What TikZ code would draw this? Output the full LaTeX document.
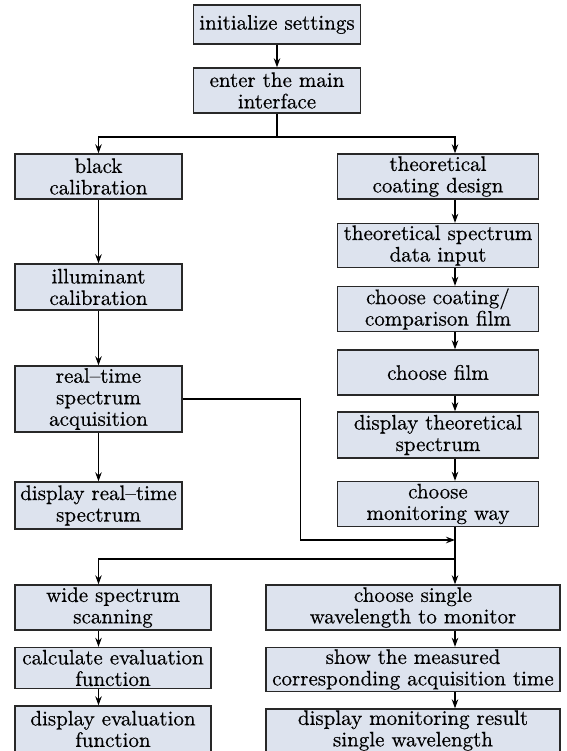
\documentclass[tikz,border=0pt]{standalone}
\usepackage{fontspec}
\newfontfamily\boxfont{lmroman10-regular.otf}[FakeBold=0.5, Ligatures=TeX]
\usetikzlibrary{arrows.meta}
\definecolor{boxfill}{RGB}{221,227,238}
\definecolor{boxline}{RGB}{40,40,40}
\begin{document}
\begin{tikzpicture}[x=1pt,y=-1pt,
  flowbox/.style={draw=boxline, line width=1.4pt, fill=boxfill, rectangle,
    inner sep=0pt, align=center, font=\boxfont\fontsize{21}{21.5}\selectfont},
  arr/.style={draw=black, line width=1.1pt, -{Stealth[length=9pt,width=6.5pt,inset=3pt]}},
  ln/.style={draw=black, line width=1.1pt}]
\useasboundingbox[fill=white] (0,0) rectangle (566,751);
\coordinate (xL) at (98.5,0);
\coordinate (xR) at (455,0);
\coordinate (b1) at (277,137);
\coordinate (j1) at (300.5,540);
\coordinate (b2) at (455,559);

\node[flowbox, minimum width=167pt, minimum height=39pt] (init) at (277,24.5) {initialize settings};
\node[flowbox, minimum width=167pt, minimum height=45pt] (main) at (277,90.5) {enter the main\\interface};

\node[flowbox, minimum width=167pt, minimum height=45pt] (black) at (98.5,176.5) {black\\calibration};
\node[flowbox, minimum width=167pt, minimum height=46pt] (illum) at (98.5,287) {illuminant\\calibration};
\node[flowbox, minimum width=167pt, minimum height=66pt] (rtacq) at (98.5,399) {real--time\\spectrum\\acquisition};
\node[flowbox, minimum width=167pt, minimum height=47pt] (disprt) at (98.5,505.5) {display real--time\\spectrum};

\node[flowbox, minimum width=201pt, minimum height=45pt] (tcd) at (438,176.5) {theoretical\\coating design};
\node[flowbox, minimum width=201pt, minimum height=44pt] (tsdi) at (438,245.5) {theoretical spectrum\\data input};
\node[flowbox, minimum width=201pt, minimum height=45pt] (ccf) at (438,309) {choose coating/\\comparison film};
\node[flowbox, minimum width=201pt, minimum height=45pt] (cf) at (438,372.5) {choose film};
\node[flowbox, minimum width=201pt, minimum height=46pt] (dts) at (438,435) {display theoretical\\spectrum};
\node[flowbox, minimum width=201pt, minimum height=45pt] (cmw) at (438,504) {choose\\monitoring way};

\node[flowbox, minimum width=196pt, minimum height=45pt] (wss) at (113,607.5) {wide spectrum\\scanning};
\node[flowbox, minimum width=196pt, minimum height=41pt] (cef) at (113,668) {calculate evaluation\\function};
\node[flowbox, minimum width=196pt, minimum height=46pt] (def) at (113,729) {display evaluation\\function};

\node[flowbox, minimum width=294pt, minimum height=45pt] (csw) at (413,607.5) {choose single\\wavelength to monitor};
\node[flowbox, minimum width=294pt, minimum height=44pt] (smc) at (413,669.5) {show the measured\\corresponding acquisition time};
\node[flowbox, minimum width=294pt, minimum height=43pt] (dmr) at (413,730.5) {display monitoring result\\single wavelength};

% top
\draw[arr] (init) -- (main);
\draw[ln] (main.south) -- (b1);
\draw[arr] (b1) -| (black.north);
\draw[arr] (b1) -| (tcd.north -| xR);

% left column
\draw[arr] (black) -- (illum);
\draw[arr] (illum) -- (rtacq);
\draw[arr] (rtacq) -- (disprt);

% right column
\draw[arr] (tcd.south -| xR) -- (tsdi.north -| xR);
\draw[arr] (tsdi.south -| xR) -- (ccf.north -| xR);
\draw[arr] (ccf.south -| xR) -- (cf.north -| xR);
\draw[arr] (cf.south -| xR) -- (dts.north -| xR);
\draw[arr] (dts.south -| xR) -- (cmw.north -| xR);

% merge
\draw[arr] (rtacq.east) -| (j1) -- (j1 -| xR);
\draw[ln] (cmw.south -| xR) -- (b2);
\draw[arr] (b2) -| (wss.north -| xL);
\draw[arr] (b2) -- (csw.north -| xR);

% bottom columns
\draw[arr] (wss.south -| xL) -- (cef.north -| xL);
\draw[arr] (cef.south -| xL) -- (def.north -| xL);
\draw[arr] (csw.south -| xR) -- (smc.north -| xR);
\draw[arr] (smc.south -| xR) -- (dmr.north -| xR);
\end{tikzpicture}
\end{document}
